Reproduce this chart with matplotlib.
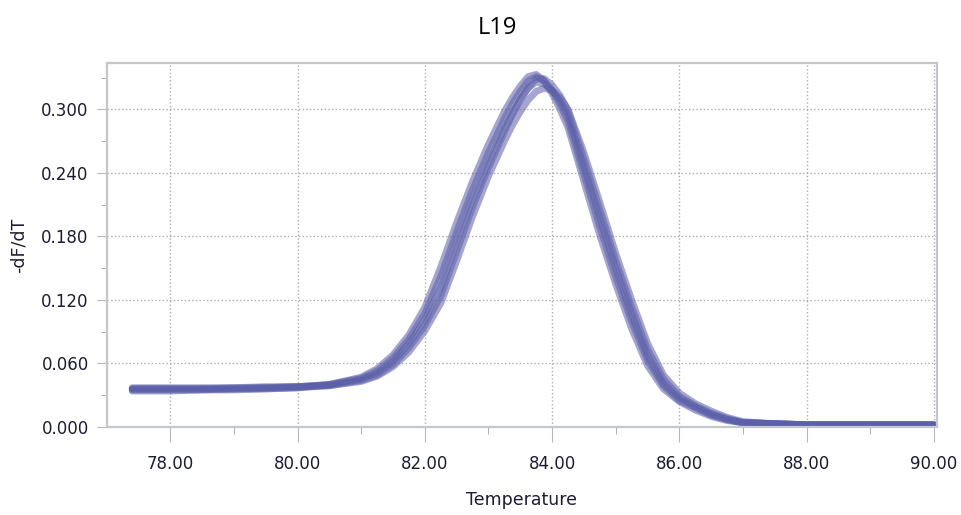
import matplotlib.pyplot as plt
import numpy as np

temp = [77.4, 78.0, 78.5, 79.0, 79.5, 80.0, 80.5, 81.0, 81.25, 81.5, 81.75,
        82.0, 82.25, 82.5, 82.75, 83.0, 83.25, 83.375, 83.5, 83.625, 83.75,
        83.875, 84.0, 84.125, 84.25, 84.5, 84.75, 85.0, 85.25, 85.5, 85.75,
        86.0, 86.25, 86.5, 86.75, 87.0, 87.5, 88.0, 88.5, 89.0, 89.5, 90.0]

# melt curves, -dF/dT per well
well_a = [.036, .036, .036, .037, .037, .038, .040, .045, .051, .062, .079,
          .101, .132, .175, .215, .251, .283, .297, .310, .320, .326,
          .324, .318, .308, .294, .246, .197, .150, .106, .067, .041,
          .027, .019, .012, .007, .004, .003, .002, .002, .002, .002, .002]
well_b = [.035, .035, .035, .036, .036, .037, .040, .047, .055, .068, .087,
          .113, .151, .193, .232, .267, .298, .311, .322, .331, .333,
          .327, .315, .300, .283, .232, .181, .135, .093, .058, .036,
          .024, .016, .010, .006, .004, .003, .002, .002, .002, .002, .002]
well_c = [.037, .037, .037, .037, .038, .038, .039, .043, .048, .057, .071,
          .091, .117, .157, .199, .237, .270, .285, .298, .309, .317,
          .320, .318, .311, .300, .259, .212, .164, .120, .079, .049,
          .032, .022, .015, .009, .005, .003, .002, .002, .002, .002, .002]
well_d = [.036, .036, .036, .036, .037, .038, .040, .046, .053, .065, .083,
          .107, .142, .184, .224, .259, .291, .305, .317, .327, .331,
          .327, .318, .305, .289, .239, .189, .142, .100, .063, .039,
          .025, .018, .011, .007, .004, .003, .002, .002, .002, .002, .002]
well_e = [.034, .034, .035, .035, .036, .037, .039, .044, .049, .059, .075,
          .096, .124, .166, .208, .245, .279, .295, .309, .321, .329,
          .329, .323, .313, .299, .253, .205, .157, .113, .073, .045,
          .029, .020, .013, .008, .004, .003, .002, .002, .002, .002, .002]
wells = [well_a, well_b, well_c, well_d, well_e]

fig = plt.figure(figsize=(9.62, 5.15), dpi=100)
ax = fig.add_axes([0.111, 0.171, 0.863, 0.707])

for w in wells:
    ax.plot(temp, w, color='#5a5ea8', lw=5, alpha=0.55,
            solid_capstyle='round', solid_joinstyle='round')

ax.set_xlim(77.0, 90.05)
ax.set_ylim(0, 0.344)
ax.set_xticks(np.arange(78, 90.1, 2))
ax.set_xticklabels(['%.2f' % v for v in np.arange(78, 90.1, 2)])
ax.set_xticks(np.arange(79, 90, 2), minor=True)
ax.set_yticks(np.arange(0, 0.31, 0.06))
ax.set_yticklabels(['%.3f' % v for v in np.arange(0, 0.31, 0.06)])
ax.set_yticks(np.arange(0.03, 0.34, 0.06), minor=True)

ax.grid(True, which='major', ls=':', color='#acacac', lw=1)
for s in ax.spines.values():
    s.set_color('#c4c8cc')
    s.set_linewidth(1.6)
ax.tick_params(which='both', labelsize=12, labelcolor='#1c1c34')
ax.tick_params(axis='x', which='major', length=11, color='#b8b8b8', pad=9)
ax.tick_params(axis='x', which='minor', length=5, color='#a0a0a0')
ax.tick_params(axis='y', which='major', length=7, color='#b8b8b8', pad=6)
ax.tick_params(axis='y', which='minor', length=4, color='#a0a0a0')

ax.set_xlabel('Temperature', fontsize=12.5, color='#1c1c34', labelpad=13)
ax.set_ylabel('-dF/dT', fontsize=12.5, color='#1c1c34', labelpad=10)
fig.text(0.517, 0.945, 'L19', ha='center', va='center', fontsize=17,
         family='Open Sans')

fig.savefig('out.png', dpi=100)
